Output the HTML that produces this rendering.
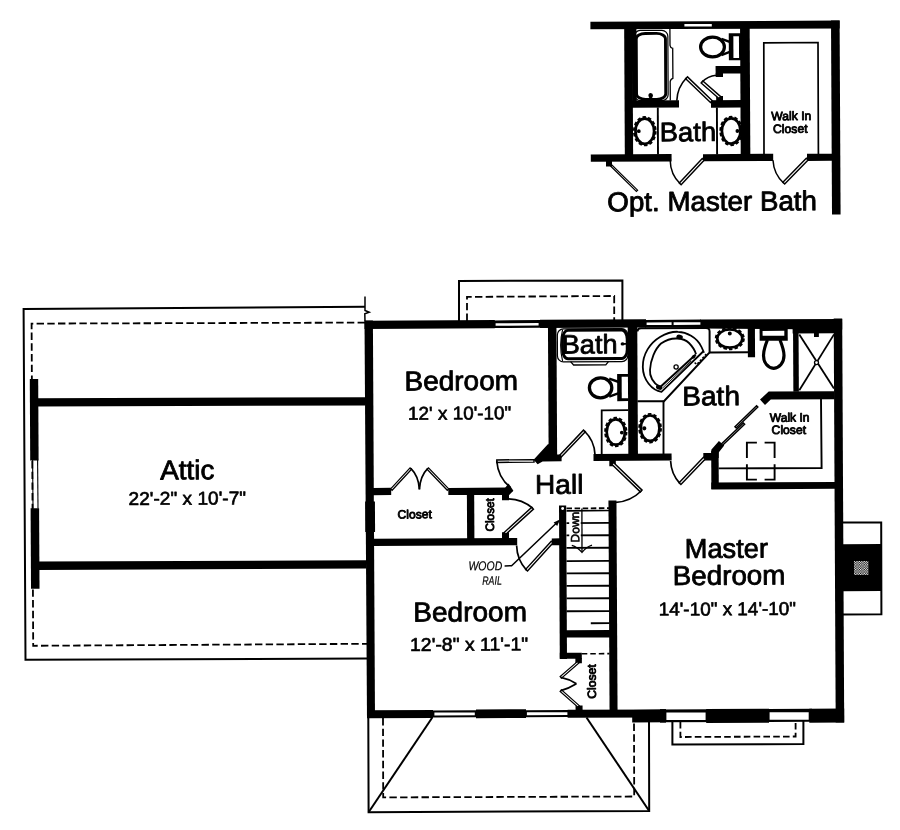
<!DOCTYPE html>
<html><head><meta charset="utf-8"><title>Floor Plan</title>
<style>
html,body{margin:0;padding:0;background:#fff;}
body{width:900px;height:830px;overflow:hidden;font-family:"Liberation Sans",sans-serif;}
svg{display:block;will-change:transform;}
svg text{font-family:"Liberation Sans",sans-serif;fill:#000;}
</style></head><body>
<svg width="900" height="830" viewBox="0 0 900 830">
<rect x="0" y="0" width="900" height="830" fill="#fff"/>
<g transform="rotate(-0.3 450 415)">
<polyline points="365.57,306.36 24.16,306.87 24.22,657.57 365.73,658.16" fill="none" stroke="#000" stroke-width="2" stroke-linejoin="miter"/>
<polyline points="365.62,296.06 365.55,310.06 369.74,311.78 365.33,313.36 365.49,320.56" fill="none" stroke="#000" stroke-width="1.5"/>
<polyline points="365.48,322.16 32.08,321.41 32,643.61 365.8,643.36" fill="none" stroke="#000" stroke-width="1.8" stroke-dasharray="7.4 3.3"/>
<polygon points="36.09,396.03 365.59,396.86 365.55,404.96 36.05,404.23" fill="#000"/>
<polygon points="36.24,559.44 365.74,559.86 365.7,568.06 36.19,567.74" fill="#000"/>
<rect x="29.98" y="376.82" width="8.4" height="81.5" fill="#000"/>
<rect x="30.11" y="506.03" width="8.5" height="80.6" fill="#000"/>
<polyline points="32.37,457.81 32.52,506.32" fill="none" stroke="#000" stroke-width="1.1"/>
<polyline points="37.37,457.84 37.52,506.34" fill="none" stroke="#000" stroke-width="1.1"/>
<polyline points="459.49,321.05 459.7,281.05 623.1,281.3 622.9,320.9" fill="none" stroke="#000" stroke-width="2"/>
<polyline points="467.49,321.09 467.62,296.99 614.82,296.86 614.7,320.86" fill="none" stroke="#000" stroke-width="1.8" stroke-dasharray="7.4 3.3"/>
<polyline points="366.72,716.57 366.52,811.77 647.12,812.04 647.4,722.04" fill="none" stroke="#000" stroke-width="2"/>
<polyline points="381.41,717.65 381.2,797.04 632.2,797.46 632.39,722.96" fill="none" stroke="#000" stroke-width="1.8" stroke-dasharray="7.4 3.3"/>
<polyline points="366.52,811.77 430.72,717.4" fill="none" stroke="#000" stroke-width="2"/>
<polyline points="647.12,812.04 584.91,718.21" fill="none" stroke="#000" stroke-width="2"/>
<polyline points="670.79,722.16 670.67,745.66 801.67,745.85 801.79,722.85" fill="none" stroke="#000" stroke-width="2"/>
<polyline points="678.79,723.2 678.71,738.2 793.91,738.31 793.99,723.81" fill="none" stroke="#000" stroke-width="1.8" stroke-dasharray="6.6 3.2"/>
<polygon points="841.43,524.65 880.63,524.66 880.35,616.46 840.95,616.45" fill="#fff" stroke="#000" stroke-width="2"/>
<rect x="841.19" y="546.35" width="39.3" height="47" fill="#000"/>
<defs><pattern id="chk" width="2.4" height="2.4" patternUnits="userSpaceOnUse"><rect width="2.4" height="2.4" fill="#000"/><rect x="0" y="0" width="1.2" height="1.2" fill="#fff"/><rect x="1.2" y="1.2" width="1.2" height="1.2" fill="#fff"/></pattern></defs>
<rect x="853.19" y="563.15" width="14.4" height="14" fill="url(#chk)"/>
<polygon points="365,320.05 373.4,320.1 373.41,717.6 365.41,717.56" fill="#000"/>
<rect x="364.67" y="501.08" width="9.8" height="30.5" fill="#000"/>
<polygon points="364.99,320.35 495.3,320.34 495.25,328.54 364.95,328.45" fill="#000"/>
<polygon points="494.49,320.63 541.1,320.58 541.06,328.28 494.45,328.23" fill="#000"/>
<polygon points="540.5,320.27 646.5,320.33 646.45,328.63 540.45,328.47" fill="#000"/>
<polygon points="645.5,320.92 701.5,320.92 701.45,328.92 645.45,328.62" fill="#000"/>
<polygon points="700.8,320.91 842.7,320.95 842.64,331.55 700.75,329.91" fill="#000"/>
<polygon points="834.2,320.61 842.7,320.65 842.58,724.66 834.08,724.62" fill="#000"/>
<polygon points="365.46,709.76 431.46,709.91 431.41,717.91 365.41,717.76" fill="#000"/>
<polygon points="430.45,710.3 475.45,710.34 475.42,717.44 430.42,717.4" fill="#000"/>
<polygon points="474.46,709.53 524.46,709.59 524.41,718.39 474.41,718.33" fill="#000"/>
<polygon points="523.45,710.59 567.05,710.62 567.02,717.72 523.42,717.69" fill="#000"/>
<polygon points="566.05,710.41 664.46,710.53 664.41,718.73 566.01,718.31" fill="#000"/>
<polygon points="630.65,710.95 664.46,710.53 664.39,723.43 630.59,723.35" fill="#000"/>
<polygon points="704.66,710.34 767.46,710.47 767.38,724.47 704.58,724.24" fill="#000"/>
<polygon points="807.76,710.58 842.66,710.66 842.58,724.66 807.68,724.58" fill="#000"/>
<polygon points="658.46,710.4 664.46,710.43 664.39,723.53 658.39,723.5" fill="#000"/>
<polygon points="496.08,323.44 539.08,323.47 539.07,326.07 496.07,326.04" fill="#fff"/>
<polygon points="647.08,323.43 672.08,323.46 672.07,326.06 647.07,326.03" fill="#fff"/>
<polygon points="674.08,323.47 700.88,323.51 700.87,326.11 674.07,326.07" fill="#fff"/>
<polygon points="432.84,712.41 473.24,712.53 473.23,715.43 432.83,715.31" fill="#fff"/>
<polygon points="525.34,712.7 565.84,712.81 565.83,715.71 525.33,715.6" fill="#fff"/>
<polygon points="658.46,710.6 768.46,710.67 768.39,723.67 658.39,723.3" fill="#000"/>
<polygon points="664.84,713.63 704.04,713.73 704,721.23 664.8,721.13" fill="#fff"/>
<polygon points="766.46,710.66 810.46,710.69 810.39,723.69 766.39,723.66" fill="#000"/>
<polygon points="768.04,713.97 807.14,714.07 807.1,721.57 768,721.47" fill="#fff"/>
<rect x="548.42" y="327.54" width="8.5" height="129" fill="#000"/>
<polygon points="548.15,444.31 533.36,460.24 537.34,464.66 542.36,461.98 561.36,461.88 561.39,455.18 556.59,455.16" fill="#000"/>
<rect x="628.12" y="327.96" width="9.6" height="128" fill="#000"/>
<rect x="593.28" y="454.76" width="78.1" height="7" fill="#000"/>
<rect x="609.05" y="460.85" width="6.5" height="6.2" fill="#000"/>
<rect x="748.17" y="329.58" width="7.2" height="29.2" fill="#000"/>
<rect x="793.48" y="330.81" width="5.5" height="62.8" fill="#000"/>
<polygon points="768.82,393.17 834.62,393.31 834.58,401.21 770.88,401.08 765.05,406.65 760.08,401.22" fill="#000"/>
<rect x="711.01" y="452.39" width="7.4" height="38.1" fill="#000"/>
<rect x="710.93" y="483.89" width="123.7" height="6.9" fill="#000"/>
<polygon points="711.11,451.07 718.76,442.41 724.04,447.04 718.5,453.81 718.47,459.41 711.07,459.37" fill="#000"/>
<rect x="703.08" y="454.35" width="8.7" height="7.4" fill="#000"/>
<rect x="608" y="501.45" width="8" height="210.4" fill="#000"/>
<rect x="558.52" y="505.99" width="7.2" height="153.6" fill="#000"/>
<ellipse cx="562.11" cy="508.99" rx="1.5" ry="1.5" fill="#fff" stroke="none" stroke-width="0"/>
<rect x="564.85" y="630.92" width="44" height="7.3" fill="#000"/>
<rect x="558.54" y="653.43" width="22" height="6" fill="#000"/>
<rect x="574.11" y="658.67" width="6.5" height="5.3" fill="#000"/>
<rect x="574.06" y="706.27" width="7" height="5.4" fill="#000"/>
<rect x="372.6" y="487.54" width="18.2" height="7.2" fill="#000"/>
<polygon points="447.92,487.89 506.62,487.9 512.6,491.33 508.78,495.21 447.88,495.09" fill="#000"/>
<polygon points="504.62,488.29 508.24,483.91 513,491.13 508.59,494.31" fill="#000"/>
<rect x="501.57" y="494.29" width="7" height="6.2" fill="#000"/>
<rect x="466.47" y="494.11" width="7.3" height="45" fill="#000"/>
<rect x="372.33" y="538.37" width="144.2" height="7.3" fill="#000"/>
<rect x="501.37" y="532.49" width="7" height="6.8" fill="#000"/>
<rect x="551.13" y="538.95" width="8.7" height="6.8" fill="#000"/>
<polyline points="565.93,523.71 608.93,523.73" fill="none" stroke="#000" stroke-width="1.9"/>
<polyline points="565.87,536.01 608.87,536.03" fill="none" stroke="#000" stroke-width="1.9"/>
<polyline points="565.8,548.51 608.8,548.53" fill="none" stroke="#000" stroke-width="1.9"/>
<polyline points="565.73,561.71 608.73,561.73" fill="none" stroke="#000" stroke-width="1.9"/>
<polyline points="565.67,574.01 608.67,574.03" fill="none" stroke="#000" stroke-width="1.9"/>
<polyline points="565.6,586.51 608.6,586.53" fill="none" stroke="#000" stroke-width="1.9"/>
<polyline points="565.54,599.01 608.54,599.03" fill="none" stroke="#000" stroke-width="1.9"/>
<polyline points="565.47,611.91 608.47,611.93" fill="none" stroke="#000" stroke-width="1.9"/>
<polyline points="589.71,623.93 608.41,623.93" fill="none" stroke="#000" stroke-width="1.9"/>
<polyline points="566.01,509.01 609.01,509.03" fill="none" stroke="#000" stroke-width="1.8" stroke-dasharray="5.5 2.6"/>
<polyline points="566,511.41 609,511.33" fill="none" stroke="#000" stroke-width="1.7"/>
<rect x="568.61" y="512.65" width="11.6" height="31" fill="#fff"/>
<polyline points="581.41,509.19 581.28,552.69" fill="none" stroke="#000" stroke-width="1.3"/>
<path d="M 571.12 546.04 Q 576.81 547.67 581.28 553.09 Q 585.81 547.71 591.32 545.94" fill="none" stroke="#000" stroke-width="1.3"/>
<text transform="translate(578.53 543.06) rotate(-90)" font-size="12" textLength="30.56" lengthAdjust="spacingAndGlyphs" stroke="#000" stroke-width="0.6" stroke-linejoin="round">Down</text>
<polygon points="533.75,460.09 496.55,460.19 496.56,462.69 533.76,462.59" fill="#fff" stroke="#000" stroke-width="1.45"/>
<path d="M 496.56 461.44 A 37.2 37.2 0 0 0 510.22 487.92" fill="none" stroke="#000" stroke-width="1.7"/>
<polygon points="561.28,457.45 585.22,432.57 583.41,430.84 559.48,455.71" fill="#fff" stroke="#000" stroke-width="1.45"/>
<path d="M 584.31 431.7 A 34.52 34.52 0 0 1 594.79 455.36" fill="none" stroke="#000" stroke-width="1.7"/>
<polygon points="611.47,465.15 639.93,492.89 641.67,491.11 613.22,463.36" fill="#fff" stroke="#000" stroke-width="1.45"/>
<path d="M 640.8 492 A 39.75 39.75 0 0 1 615.54 503.27" fill="none" stroke="#000" stroke-width="1.7"/>
<polygon points="703.27,458.66 678.74,483.93 680.53,485.67 705.07,460.4" fill="#fff" stroke="#000" stroke-width="1.45"/>
<path d="M 679.64 484.8 A 35.22 35.22 0 0 1 670.36 462.15" fill="none" stroke="#000" stroke-width="1.7"/>
<polygon points="505.22,534.61 532.95,509.56 531.27,507.7 503.54,532.76" fill="#fff" stroke="#000" stroke-width="1.45"/>
<path d="M 532.11 508.63 A 37.37 37.37 0 0 0 508.16 499.11" fill="none" stroke="#000" stroke-width="1.7"/>
<polygon points="550.61,541.69 524.87,569.75 526.71,571.44 552.45,543.38" fill="#fff" stroke="#000" stroke-width="1.45"/>
<path d="M 525.79 570.6 A 38.09 38.09 0 0 1 515.92 545.75" fill="none" stroke="#000" stroke-width="1.7"/>
<polygon points="391.74,489.97 411.25,469.08 409.79,467.71 390.28,488.61" fill="#fff" stroke="#000" stroke-width="1.25"/>
<polygon points="448.33,488.9 428.24,467.79 426.8,469.17 446.89,490.28" fill="#fff" stroke="#000" stroke-width="1.25"/>
<path d="M 410.52 468.19 Q 418.28 475.83 419.01 489.24" fill="none" stroke="#000" stroke-width="1.7"/>
<path d="M 427.52 468.28 Q 419.88 475.84 419.01 489.24" fill="none" stroke="#000" stroke-width="1.7"/>
<polygon points="576.05,662.31 558.77,677.22 560.08,678.73 577.36,663.82" fill="#fff" stroke="#000" stroke-width="1.25"/>
<polygon points="577.74,706.32 560.02,690.43 558.69,691.92 576.4,707.81" fill="#fff" stroke="#000" stroke-width="1.25"/>
<path d="M 559.42 677.98 Q 567.62 679.62 574.99 684.46" fill="none" stroke="#000" stroke-width="1.8"/>
<path d="M 559.36 691.18 Q 567.57 689.02 574.99 684.46" fill="none" stroke="#000" stroke-width="1.8"/>
<polyline points="580.55,654.49 608.25,654.43" fill="none" stroke="#000" stroke-width="1.6" stroke-dasharray="5.5 3"/>
<polygon points="756.62,407.36 734.91,428.25 736.16,429.54 757.86,408.66" fill="#fff" stroke="#000" stroke-width="1.5"/>
<polygon points="743.33,424.48 721.22,445.37 722.46,446.68 744.57,425.79" fill="#fff" stroke="#000" stroke-width="1.5"/>
<polyline points="718.32,469.81 821.32,469.94 821.08,400.94" fill="none" stroke="#000" stroke-width="1.9"/>
<polyline points="756.75,444.21 746.75,444.15 746.67,459.55" fill="none" stroke="#000" stroke-width="1.9"/>
<polyline points="764.45,444.25 774.45,444.3 774.37,459.7" fill="none" stroke="#000" stroke-width="1.9"/>
<polyline points="756.56,481.21 746.56,481.15 746.64,465.75" fill="none" stroke="#000" stroke-width="1.9"/>
<polyline points="764.26,481.25 774.26,481.3 774.34,465.9" fill="none" stroke="#000" stroke-width="1.9"/>
<polyline points="503.81,566.18 510.81,566.12 558.04,521.57" fill="none" stroke="#000" stroke-width="1.5"/>
<polygon points="559.45,520.17 553.04,522.94 556.62,526.56" fill="#000"/>
<rect x="557.76" y="329.55" width="70.4" height="32.9" rx="6" ry="6" fill="none" stroke="#000" stroke-width="1.2"/>
<path d="M 563.05 330.19 Q 558.97 345.57 562.88 361.59" fill="none" stroke="#000" stroke-width="1.1"/>
<rect x="562.87" y="330.96" width="64.7" height="28.4" rx="5.5" ry="9" fill="#fff" stroke="#000" stroke-width="2.9"/>
<path d="M 570.88 362.23 L 573.86 365.65 L 606.06 365.62 L 608.88 362.23" fill="none" stroke="#000" stroke-width="1.3"/>
<ellipse cx="622.97" cy="344.8" rx="2" ry="1.7" fill="#000" stroke="none" stroke-width="0"/>
<polyline points="623.37,344.81 627.87,344.83" fill="none" stroke="#000" stroke-width="1.8"/>
<text x="562.09" y="354.09" font-size="26.6" font-weight="normal" font-style="normal" textLength="55.89" lengthAdjust="spacingAndGlyphs" stroke="#000" stroke-width="0.8" stroke-linejoin="round">Bath</text>
<ellipse cx="600.74" cy="388.59" rx="11.2" ry="10" fill="none" stroke="#000" stroke-width="3.3"/>
<path d="M 609.39 379.53 L 618.97 382.88 M 609.29 397.43 L 618.91 394.08" fill="none" stroke="#000" stroke-width="2.4"/>
<rect x="617.34" y="374.81" width="11.2" height="27.2" fill="#000"/>
<rect x="621.84" y="377.62" width="6.3" height="21.6" fill="#fff"/>
<polyline points="601.49,454.79 601.72,411.09 628.22,411.13" fill="none" stroke="#000" stroke-width="1.8"/>
<ellipse cx="615.71" cy="432.87" rx="10.7" ry="14.3" fill="none" stroke="#000" stroke-width="1.9" stroke-dasharray="3.51 2.15"/>
<ellipse cx="615.71" cy="432.87" rx="9.1" ry="12.7" fill="#fff" stroke="#000" stroke-width="2.7"/>
<ellipse cx="621.71" cy="433.5" rx="1.9" ry="1.9" fill="#000" stroke="none" stroke-width="0"/>
<path d="M 637.83 332.48 Q 638.05 329.18 641.45 329.2 L 706.45 329.24 Q 710.05 329.26 710.03 332.76 L 709.92 353.76 L 664.07 402.32 L 637.47 402.28" fill="none" stroke="#000" stroke-width="2"/>
<polyline points="663.57,401.92 663.29,455.12" fill="none" stroke="#000" stroke-width="1.9"/>
<polyline points="709.52,353.86 748.32,353.86" fill="none" stroke="#000" stroke-width="1.9"/>
<ellipse cx="730.2" cy="340.07" rx="14.1" ry="10.7" fill="none" stroke="#000" stroke-width="1.9" stroke-dasharray="3.48 2.13"/>
<ellipse cx="730.2" cy="340.07" rx="12.5" ry="9.1" fill="#fff" stroke="#000" stroke-width="2.7"/>
<ellipse cx="730.22" cy="335.07" rx="2" ry="2" fill="#000" stroke="none" stroke-width="0"/>
<ellipse cx="650.03" cy="429.25" rx="10.9" ry="14.3" fill="none" stroke="#000" stroke-width="1.9" stroke-dasharray="3.54 2.17"/>
<ellipse cx="650.03" cy="429.25" rx="9.3" ry="12.7" fill="#fff" stroke="#000" stroke-width="2.7"/>
<ellipse cx="644.23" cy="429.32" rx="2.1" ry="2.1" fill="#000" stroke="none" stroke-width="0"/>
<path d="M 661.62 392.91 C 652.13 391.56 643.18 381.01 643.05 368.01 C 642.92 355.01 650.37 344.05 660.41 338.1 C 668.43 333.54 674.43 332.77 678.43 332.99 C 686.43 333.24 697.41 338.29 701.85 348.32 L 703.73 352.53 Z" fill="none" stroke="#000" stroke-width="1.8"/>
<path d="M 659.55 387.7 C 653.16 384.06 649.6 377.04 650.23 371.05 C 650.69 361.05 655.34 350.07 661.37 344.61 C 666.39 341.13 672.4 339.46 677.4 339.69 C 683.4 339.92 687.38 342.24 689.37 344.25 C 692.36 347.27 694.94 350.28 696.31 355.49" fill="none" stroke="#000" stroke-width="1.8"/>
<polyline points="660.14,388.3 696.11,355.69" fill="none" stroke="#000" stroke-width="2"/>
<polyline points="662.74,389.11 691.48,362.26" fill="none" stroke="#000" stroke-width="0.9"/>
<ellipse cx="680.01" cy="338.2" rx="3.3" ry="2.4" fill="#000" stroke="none" stroke-width="0" transform="rotate(10 680.01 338.2)"/>
<ellipse cx="659.34" cy="388.5" rx="3.3" ry="2.3" fill="#000" stroke="none" stroke-width="0" transform="rotate(20 659.34 388.5)"/>
<ellipse cx="693.9" cy="358.08" rx="2.2" ry="1.6" fill="#000" stroke="none" stroke-width="0" transform="rotate(-42 693.9 358.08)"/>
<ellipse cx="676.35" cy="368.18" rx="2.1" ry="2.1" fill="none" stroke="#000" stroke-width="1.3"/>
<polyline points="695.29,360.88 703.53,352.93" fill="none" stroke="#000" stroke-width="1.2"/>
<polyline points="694.87,363.88 697.06,365.69 706.11,355.94 703.93,353.33" fill="none" stroke="#000" stroke-width="1.5" stroke-dasharray="2.2 1.5"/>
<rect x="760.02" y="330.7" width="28.1" height="11.7" fill="#000"/>
<rect x="763.02" y="332.59" width="21.7" height="4.9" fill="#fff"/>
<path d="M 767.79 341.66 C 765.36 347.65 763.84 351.64 763.81 357.14 C 763.77 364.64 768.24 369.17 773.94 370.1 C 779.64 369.23 784.27 364.75 784.31 357.25 C 784.34 351.75 782.76 347.74 780.39 341.73" fill="none" stroke="#000" stroke-width="3.2"/>
<rect x="793.04" y="330.3" width="41.8" height="5" fill="#000"/>
<polyline points="799.72,336.23 834.13,390.61" fill="none" stroke="#000" stroke-width="1.8"/>
<polyline points="834.42,336.41 799.43,392.03" fill="none" stroke="#000" stroke-width="1.8"/>
<ellipse cx="816.77" cy="364.52" rx="2" ry="2" fill="#fff" stroke="#000" stroke-width="1.3"/>
<rect x="814.41" y="334.92" width="4.9" height="4" fill="#000"/>
<text x="159.81" y="477.88" font-size="27.3" font-weight="normal" font-style="normal" textLength="54.19" lengthAdjust="spacingAndGlyphs" stroke="#000" stroke-width="0.8" stroke-linejoin="round">Attic</text>
<text x="128.1" y="503.32" font-size="18.6" font-weight="normal" font-style="normal" textLength="117.52" lengthAdjust="spacingAndGlyphs" stroke="#000" stroke-width="0.65" stroke-linejoin="round">22'-2" x 10'-7"</text>
<text x="404.63" y="390.16" font-size="27.3" font-weight="normal" font-style="normal" textLength="113.54" lengthAdjust="spacingAndGlyphs" stroke="#000" stroke-width="0.8" stroke-linejoin="round">Bedroom</text>
<text x="408.06" y="419.58" font-size="18.6" font-weight="normal" font-style="normal" textLength="103.19" lengthAdjust="spacingAndGlyphs" stroke="#000" stroke-width="0.65" stroke-linejoin="round">12' x 10'-10"</text>
<text x="412.22" y="621.41" font-size="27.3" font-weight="normal" font-style="normal" textLength="113.75" lengthAdjust="spacingAndGlyphs" stroke="#000" stroke-width="0.8" stroke-linejoin="round">Bedroom</text>
<text x="408.83" y="650.79" font-size="18.6" font-weight="normal" font-style="normal" textLength="118.03" lengthAdjust="spacingAndGlyphs" stroke="#000" stroke-width="0.65" stroke-linejoin="round">12'-8" x 11'-1"</text>
<text x="684.01" y="559.23" font-size="27.3" font-weight="normal" font-style="normal" textLength="83.29" lengthAdjust="spacingAndGlyphs" stroke="#000" stroke-width="0.8" stroke-linejoin="round">Master</text>
<text x="671.83" y="586.16" font-size="27.3" font-weight="normal" font-style="normal" textLength="112.71" lengthAdjust="spacingAndGlyphs" stroke="#000" stroke-width="0.8" stroke-linejoin="round">Bedroom</text>
<text x="657.63" y="616.69" font-size="18.6" font-weight="normal" font-style="normal" textLength="137.39" lengthAdjust="spacingAndGlyphs" stroke="#000" stroke-width="0.65" stroke-linejoin="round">14'-10" x 14'-10"</text>
<text x="534.68" y="494.24" font-size="27" font-weight="normal" font-style="normal" textLength="48.38" lengthAdjust="spacingAndGlyphs" stroke="#000" stroke-width="0.8" stroke-linejoin="round">Hall</text>
<text x="682.35" y="406.62" font-size="27" font-weight="normal" font-style="normal" textLength="57.72" lengthAdjust="spacingAndGlyphs" stroke="#000" stroke-width="0.8" stroke-linejoin="round">Bath</text>
<text x="396.87" y="518.22" font-size="12" font-weight="normal" font-style="normal" textLength="34.46" lengthAdjust="spacingAndGlyphs" stroke="#000" stroke-width="0.85" stroke-linejoin="round">Closet</text>
<text transform="translate(493.49 531.8) rotate(-90)" font-size="12" textLength="33.44" lengthAdjust="spacingAndGlyphs" stroke="#000" stroke-width="0.85" stroke-linejoin="round">Closet</text>
<text transform="translate(594.41 699.55) rotate(-90)" font-size="12" textLength="34.46" lengthAdjust="spacingAndGlyphs" stroke="#000" stroke-width="0.85" stroke-linejoin="round">Closet</text>
<text x="769.73" y="423.37" font-size="12.2" font-weight="normal" font-style="normal" textLength="39.78" lengthAdjust="spacingAndGlyphs" stroke="#000" stroke-width="0.85" stroke-linejoin="round">Walk In</text>
<text x="771.5" y="435.78" font-size="12.2" font-weight="normal" font-style="normal" textLength="34.46" lengthAdjust="spacingAndGlyphs" stroke="#000" stroke-width="0.85" stroke-linejoin="round">Closet</text>
<text x="467.58" y="570.39" font-size="12.8" font-weight="normal" font-style="italic" textLength="33.85" lengthAdjust="spacingAndGlyphs" stroke="#000" stroke-width="0.2" stroke-linejoin="round">WOOD</text>
<text x="481.34" y="585.07" font-size="12.2" font-weight="normal" font-style="italic" textLength="19.69" lengthAdjust="spacingAndGlyphs" stroke="#000" stroke-width="0.2" stroke-linejoin="round">RAIL</text>
<polygon points="592.46,22.54 841.66,22.55 841.62,30.45 592.42,30.04" fill="#000"/>
<polygon points="686.44,25.33 713.84,25.38 713.83,27.88 686.43,27.83" fill="#fff"/>
<rect x="626.19" y="28.94" width="8.3" height="127" fill="#000"/>
<rect x="742.09" y="29.55" width="9.6" height="127" fill="#000"/>
<polygon points="833.06,22.6 841.66,22.65 841.64,216.45 833.05,216.4" fill="#000"/>
<rect x="592.14" y="155.25" width="80.8" height="7.3" fill="#000"/>
<rect x="704.34" y="155.51" width="70.2" height="7.1" fill="#000"/>
<rect x="808.34" y="155.74" width="25" height="7.1" fill="#000"/>
<rect x="633.63" y="101.38" width="47" height="7.4" fill="#000"/>
<rect x="717.4" y="67.46" width="25.4" height="7.5" fill="#000"/>
<rect x="717.38" y="74.41" width="7.4" height="3.9" fill="#000"/>
<rect x="712.62" y="101.65" width="30" height="7.5" fill="#000"/>
<rect x="717.85" y="97.42" width="6.8" height="5" fill="#000"/>
<rect x="633.83" y="29.47" width="4.6" height="72.5" fill="#000"/>
<rect x="636.23" y="31.46" width="33.6" height="70.2" rx="6" ry="6" fill="none" stroke="#000" stroke-width="1.2"/>
<g>
<rect x="638.22" y="34.46" width="29.2" height="66" rx="9" ry="5.5" fill="#fff" stroke="#000" stroke-width="2.9"/>
</g>
<path d="M 671.92 30.16 L 671.93 46.56 Q 672.32 49.16 674.62 49.57 L 674.66 79.47 Q 672.36 79.96 671.94 82.76 L 671.94 101.56" fill="none" stroke="#000" stroke-width="1.3"/>
<ellipse cx="652.37" cy="96.66" rx="2.3" ry="2.6" fill="#000" stroke="none" stroke-width="0"/>
<rect x="651.06" y="96.66" width="2.6" height="4" fill="#000"/>
<polyline points="659.41,108.49 659.36,155.69" fill="none" stroke="#000" stroke-width="1.9"/>
<polyline points="718.51,108.8 718.46,155.8" fill="none" stroke="#000" stroke-width="1.9"/>
<ellipse cx="646.28" cy="132.22" rx="10.9" ry="14.2" fill="none" stroke="#000" stroke-width="1.9" stroke-dasharray="3.52 2.16"/>
<ellipse cx="646.28" cy="132.22" rx="9.3" ry="12.6" fill="#fff" stroke="#000" stroke-width="2.7"/>
<ellipse cx="640.28" cy="132.19" rx="1.9" ry="1.9" fill="#000" stroke="none" stroke-width="0"/>
<ellipse cx="732.68" cy="132.48" rx="10.9" ry="14.2" fill="none" stroke="#000" stroke-width="1.9" stroke-dasharray="3.52 2.16"/>
<ellipse cx="732.68" cy="132.48" rx="9.3" ry="12.6" fill="#fff" stroke="#000" stroke-width="2.7"/>
<ellipse cx="738.88" cy="132.51" rx="1.9" ry="1.9" fill="#000" stroke="none" stroke-width="0"/>
<text x="661.18" y="142.4" font-size="26.8" font-weight="normal" font-style="normal" textLength="56.43" lengthAdjust="spacingAndGlyphs" stroke="#000" stroke-width="0.8" stroke-linejoin="round">Bath</text>
<ellipse cx="714.42" cy="48.38" rx="11.9" ry="9.9" fill="none" stroke="#000" stroke-width="3.2"/>
<path d="M 723.37 40.23 L 732.35 43.67 M 723.28 56.43 L 732.3 53.07" fill="none" stroke="#000" stroke-width="2.4"/>
<rect x="730.72" y="34.8" width="12.2" height="26.9" fill="#000"/>
<rect x="735.32" y="37.7" width="5.6" height="21.7" fill="#fff"/>
<polygon points="713.94,102.04 689.27,78.11 687.46,79.98 712.13,103.91" fill="#fff" stroke="#000" stroke-width="1.45"/>
<path d="M 688.36 79.04 A 34.37 34.37 0 0 0 678.44 101.99" fill="none" stroke="#000" stroke-width="1.6"/>
<polygon points="722.32,98.04 704.6,82.35 702.88,84.3 720.6,99.99" fill="#fff" stroke="#000" stroke-width="1.45"/>
<path d="M 703.74 83.32 A 23.67 23.67 0 0 1 717.78 76.6" fill="none" stroke="#000" stroke-width="1.6"/>
<polygon points="703.63,159.87 680.5,184.15 682.31,185.87 705.44,161.59" fill="#fff" stroke="#000" stroke-width="1.45"/>
<path d="M 681.41 185.01 A 33.53 33.53 0 0 1 671.53 161.56" fill="none" stroke="#000" stroke-width="1.5"/>
<polygon points="807.64,160.2 784.12,184.07 785.9,185.83 809.42,161.95" fill="#fff" stroke="#000" stroke-width="1.45"/>
<path d="M 785.01 184.95 A 33.52 33.52 0 0 1 774.33 161.89" fill="none" stroke="#000" stroke-width="1.5"/>
<polygon points="612.1,167.05 637.57,192.38 638.77,191.18 613.3,165.85" fill="#fff" stroke="#000" stroke-width="1.2"/>
<rect x="607.32" y="161.24" width="6" height="6" fill="#000"/>
<polyline points="765.36,156.05 765.74,44.45 819.95,44.43 819.76,156.13" fill="none" stroke="#000" stroke-width="1.7"/>
<text x="772.91" y="121.89" font-size="12.2" font-weight="normal" font-style="normal" textLength="39.98" lengthAdjust="spacingAndGlyphs" stroke="#000" stroke-width="0.85" stroke-linejoin="round">Walk In</text>
<text x="774.48" y="134.7" font-size="12.2" font-weight="normal" font-style="normal" textLength="34.66" lengthAdjust="spacingAndGlyphs" stroke="#000" stroke-width="0.85" stroke-linejoin="round">Closet</text>
<text x="608.38" y="212.03" font-size="27.3" font-weight="normal" font-style="normal" textLength="209.67" lengthAdjust="spacingAndGlyphs" stroke="#000" stroke-width="0.85" stroke-linejoin="round">Opt. Master Bath</text>
</g>
</svg>
</body></html>
